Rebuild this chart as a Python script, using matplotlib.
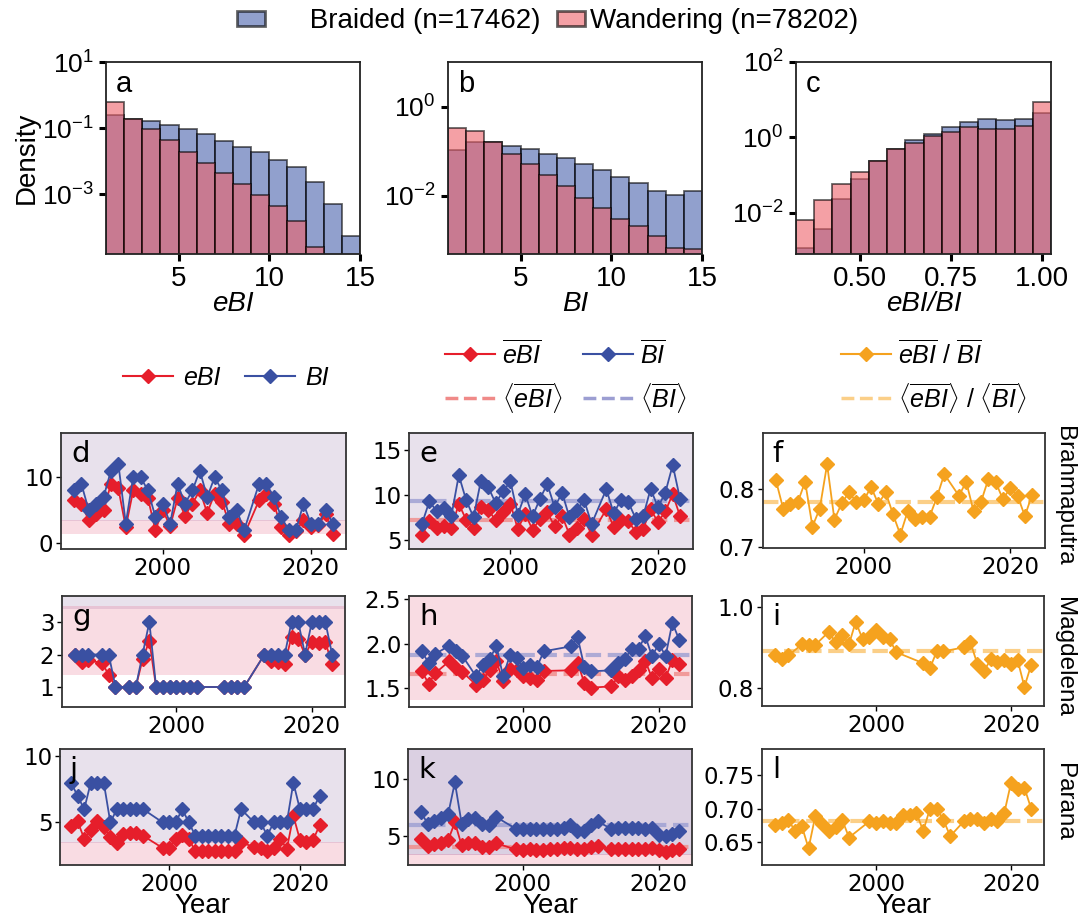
import numpy as np
import matplotlib.pyplot as plt
from matplotlib.patches import Patch
from matplotlib.lines import Line2D

plt.rcParams['font.family'] = ['Liberation Sans', 'DejaVu Sans']
plt.rcParams['mathtext.fontset'] = 'custom'
plt.rcParams['mathtext.rm'] = 'Liberation Sans'
plt.rcParams['mathtext.it'] = 'Liberation Sans:italic'
plt.rcParams['mathtext.bf'] = 'Liberation Sans:bold'

# ---------------- histogram data (density per bin) ----------------
a_edges = [1, 2, 3, 4, 5, 6, 7, 8, 9, 10, 11, 12, 13, 14, 15]
a_braided = [0.255, 0.19, 0.16, 0.126, 0.095, 0.066, 0.040, 0.027, 0.0186, 0.011, 0.0068, 0.0023, 0.0005, 5.5e-5]
a_wandering = [0.634, 0.19, 0.093, 0.044, 0.0195, 0.0090, 0.0045, 0.0020, 0.00097, 0.00044, 0.000158, 2.5e-5, np.nan, np.nan]

b_edges = [1, 2, 3, 4, 5, 6, 7, 8, 9, 10, 11, 12, 13, 14, 15]
b_braided = [0.106, 0.158, 0.165, 0.13, 0.11, 0.086, 0.069, 0.0515, 0.0378, 0.0267, 0.0196, 0.0132, 0.0107, 0.0129]
b_wandering = [0.326, 0.289, 0.16, 0.089, 0.0515, 0.029, 0.0165, 0.009, 0.0055, 0.0031, 0.0021, 0.00126, 0.00068, 0.00064]

c_edges = [0.325, 0.375, 0.425, 0.475, 0.525, 0.575, 0.625, 0.675, 0.725, 0.775, 0.825, 0.875, 0.925, 0.975, 1.025]
c_braided = [0.00118, 0.0036, 0.0223, 0.0787, 0.229, 0.50, 0.83, 1.20, 1.89, 2.57, 3.09, 2.9, 2.97, 4.47]
c_wandering = [0.0062, 0.021, 0.057, 0.119, 0.238, 0.50, 0.706, 1.06, 1.42, 1.85, 1.67, 1.67, 2.05, 8.8]

# ---------------- Brahmaputra ----------------
yrs_brahma = [1988, 1989, 1990, 1991, 1992, 1993, 1994, 1995, 1996, 1997, 1998, 1999,
              2000, 2001, 2002, 2003, 2004, 2005, 2006, 2007, 2008, 2009, 2010, 2011,
              2013, 2014, 2015, 2016, 2017, 2018, 2019, 2020, 2021, 2022, 2023]
d_ebi = [6.5, 6.0, 3.5, 4.5, 5.0, 9.0, 8.3, 2.4, 8.0, 7.5, 6.8, 2.0, 5.0, 2.6, 6.8, 4.2, 6.0, 8.0,
         4.6, 7.5, 6.3, 2.9, 2.9, 1.3, 6.5, 7.5, 6.0, 2.5, 1.2, 1.8, 3.6, 2.5, 2.8, 4.4, 1.4]
d_bi = [8, 9, 5, 6, 7, 11, 12, 3, 10, 10, 8, 4, 6, 3, 9, 6, 8, 11, 7, 10, 8, 4, 5, 2,
        9, 9, 7, 4, 2, 2, 6, 3, 3, 5, 3]
e_ebi = [5.48, 7.04, 6.3, 6.56, 6.26, 9.0, 7.22, 6.26, 8.63, 8.33, 7.15, 8.04, 9.0, 6.19, 7.9, 6.1,
         7.3, 8.04, 6.48, 7.67, 5.56, 6.3, 7.3, 5.56, 8.4, 6.4, 7.22, 7.04, 5.85, 6.19, 8.4, 6.96,
         8.15, 10.1, 7.6]
e_bi = [6.74, 9.26, 8.2, 8.5, 7.67, 12.2, 9.4, 7.5, 11.6, 10.85, 9.07, 10.4, 11.5, 7.8, 10.1, 7.6,
        9.56, 11.2, 8.6, 10.26, 7.5, 8.33, 9.4, 6.74, 10.63, 7.96, 9.44, 9.15, 7.33, 7.6, 10.67,
        8.63, 10.26, 13.33, 9.52]
f_ratio = [0.815, 0.766, 0.773, 0.777, 0.812, 0.735, 0.766, 0.842, 0.747, 0.775, 0.794, 0.777,
           0.780, 0.803, 0.774, 0.794, 0.756, 0.721, 0.761, 0.748, 0.751, 0.752, 0.786, 0.825,
           0.788, 0.812, 0.761, 0.777, 0.816, 0.812, 0.782, 0.801, 0.788, 0.753, 0.790]

# ---------------- Magdelena ----------------
yrs_mag = [1985, 1986, 1987, 1989, 1990, 1991, 1993, 1994, 1995, 1996, 1997, 1998, 1999, 2000,
           2001, 2002, 2003, 2007, 2008, 2009, 2010, 2013, 2014, 2015, 2016, 2017, 2018, 2019,
           2020, 2021, 2022, 2023]
g_ebi = [2.0, 1.78, 1.82, 1.74, 1.38, 1.0, 1.0, 1.0, 1.85, 2.42, 1.0, 1.0, 1.0, 1.0, 1.0, 1.0, 1.0,
         1.0, 1.0, 1.0, 1.0, 2.0, 1.8, 1.77, 1.7, 2.55, 2.48, 2.0, 2.38, 2.36, 2.38, 1.7]
g_bi = [2, 2, 2, 2, 2, 1, 1, 1, 2, 3, 1, 1, 1, 1, 1, 1, 1, 1, 1, 1, 1, 2, 2, 2, 2, 3, 3, 2, 3, 3, 3, 2]
h_ebi = [1.688, 1.549, 1.669, 1.80, 1.729, 1.68, 1.538, 1.594, 1.70, 1.80, 1.579, 1.718, 1.70,
         1.632, 1.617, 1.594, 1.692, 1.70, 1.786, 1.556, 1.504, 1.519, 1.632, 1.586, 1.635, 1.70,
         1.805, 1.613, 1.718, 1.617, 1.812, 1.767]
h_bi = [1.914, 1.782, 1.887, 1.974, 1.917, 1.861, 1.632, 1.756, 1.823, 1.974, 1.632, 1.868, 1.838,
        1.729, 1.756, 1.737, 1.914, 1.970, 2.075, 1.737, 1.688, 1.70, 1.782, 1.831, 1.944, 1.944,
        2.086, 1.857, 2.0, 1.861, 2.237, 2.045]
i_ratio = [0.881, 0.873, 0.881, 0.908, 0.907, 0.907, 0.939, 0.913, 0.931, 0.909, 0.964, 0.921,
           0.927, 0.943, 0.927, 0.921, 0.889, 0.862, 0.850, 0.891, 0.891, 0.901, 0.913, 0.861,
           0.842, 0.872, 0.866, 0.870, 0.861, 0.869, 0.804, 0.858]

# ---------------- Parana ----------------
yrs_par = [1985, 1986, 1987, 1988, 1989, 1990, 1991, 1992, 1993, 1994, 1995, 1996, 1999, 2000,
           2001, 2002, 2003, 2004, 2005, 2006, 2007, 2008, 2009, 2010, 2011, 2013, 2014, 2015,
           2016, 2017, 2018, 2019, 2020, 2021, 2022, 2023]
j_ebi = [4.7, 5.08, 3.76, 4.44, 5.08, 4.65, 3.89, 3.43, 4.12, 4.19, 4.19, 3.99, 3.06, 3.06, 3.76,
         4.07, 3.76, 2.8, 2.8, 2.8, 2.8, 2.8, 2.8, 2.8, 3.48, 3.13, 3.06, 2.8, 3.06, 3.76, 2.98,
         5.5, 3.69, 3.48, 3.64, 4.77]
j_bi = [8, 7, 6, 8, 8, 8, 5, 6, 6, 6, 6, 6, 5, 5, 5, 6, 5, 4, 4, 4, 4, 4, 4, 4, 6,
        5, 5, 4, 5, 5, 5, 8, 6, 6, 6, 7]
k_ebi = [4.8, 4.13, 4.3, 4.4, 4.65, 6.22, 4.2, 4.4, 4.4, 4.1, 4.1, 4.4, 3.85, 3.8, 3.85, 3.8, 3.8,
         3.9, 3.9, 3.95, 4.0, 3.85, 3.85, 4.1, 4.15, 3.85, 3.9, 3.9, 3.9, 3.9, 3.85, 3.95, 3.8,
         3.65, 3.8, 3.85]
k_bi = [7.1, 6.1, 6.3, 6.6, 6.9, 9.7, 6.1, 6.5, 6.6, 6.1, 6.0, 6.7, 5.65, 5.6, 5.65, 5.6, 5.6,
        5.65, 5.65, 5.7, 6.0, 5.5, 5.5, 6.0, 6.3, 5.65, 5.7, 5.7, 5.75, 5.7, 5.65, 5.7, 5.15,
        5.0, 5.2, 5.5]
l_ratio = [0.676, 0.679, 0.683, 0.667, 0.674, 0.641, 0.689, 0.677, 0.667, 0.672, 0.683, 0.657,
           0.681, 0.679, 0.681, 0.679, 0.679, 0.690, 0.690, 0.693, 0.667, 0.700, 0.700, 0.683,
           0.659, 0.681, 0.684, 0.684, 0.678, 0.684, 0.681, 0.693, 0.738, 0.730, 0.731, 0.700]

# band limits used for shading (wandering / braided)
wander_band = (1.36, 3.5)
braid_band = (3.4, 100)

# ---------------- styling ----------------
W, H = 1089, 922
C_BRAID = '#4861ac'
C_WAND = '#ee6169'
RED = '#e61e2b'
BLUE = '#3a50a2'
ORANGE = '#f5a21e'
RED_M = '#f08a88'
BLUE_M = '#9c9ed2'
ORANGE_M = '#fbcf88'
TICKFONT = 'DejaVu Sans'
MS = 6.8


def rect(x0, y0, x1, y1):
    return [x0 / W, 1 - y1 / H, (x1 - x0) / W, (y1 - y0) / H]


fig = plt.figure(figsize=(W / 100, H / 100), dpi=100)


def draw_hist(box, edges, braided, wandering, letter, xlabel, xticks, xtlabels, yticks, ylim):
    ax = fig.add_axes(rect(*box))
    ax.set_yscale('log')
    edges = np.asarray(edges)
    w = np.diff(edges)
    ax.bar(edges[:-1], braided, width=w, align='edge', bottom=1e-9, color=C_BRAID,
           alpha=0.6, edgecolor='black', linewidth=1.3)
    ax.bar(edges[:-1], wandering, width=w, align='edge', bottom=1e-9, color=C_WAND,
           alpha=0.6, edgecolor='black', linewidth=1.3)
    ax.set_xlim(edges[0], edges[-1])
    ax.set_ylim(*ylim)
    ax.set_xticks(xticks, xtlabels, fontsize=20)
    ax.set_yticks(yticks, [r'$10^{%d}$' % int(round(np.log10(t))) for t in yticks], fontsize=19)
    ax.minorticks_off()
    ax.tick_params(length=5, width=2.2, pad=4)
    for s in ax.spines.values():
        s.set_linewidth(1.3)
        s.set_color('#222222')
    ax.set_xlabel(xlabel, fontsize=20, fontstyle='italic', labelpad=-1)
    ax.text(0.04, 0.96, letter, transform=ax.transAxes, va='top', ha='left', fontsize=21)
    return ax


ax_a = draw_hist((106, 62, 360, 254), a_edges, a_braided, a_wandering, 'a', 'eBI',
                 [5, 10, 15], ['5', '10', '15'], [1e1, 1e-1, 1e-3], (10 ** -4.81, 10))
ax_a.set_ylabel('Density', fontsize=20, labelpad=1)
draw_hist((448, 62, 702, 254), b_edges, b_braided, b_wandering, 'b', 'BI',
          [5, 10, 15], ['5', '10', '15'], [1e0, 1e-2], (10 ** -3.3, 10))
draw_hist((796, 62, 1051, 254), c_edges, c_braided, c_wandering, 'c', 'eBI/BI',
          [0.5, 0.75, 1.0], ['0.50', '0.75', '1.00'], [1e2, 1e0, 1e-2], (10 ** -3.1, 100))

fig.legend(
    [Patch(facecolor=C_BRAID, alpha=0.6, edgecolor='black', linewidth=2),
     Patch(facecolor=C_WAND, alpha=0.6, edgecolor='black', linewidth=2)],
    ['     Braided (n=17462)', 'Wandering (n=78202)'],
    loc='center', bbox_to_anchor=(548 / W, 1 - 21 / H), ncol=2, frameon=False,
    fontsize=20, handlelength=1.0, handleheight=0.45, handletextpad=0.2, columnspacing=0.6)


def style_row(ax, letter, xlim, ylim, yticks, ytlabels, xlabel=False):
    ax.set_xlim(*xlim)
    ax.set_ylim(*ylim)
    ax.set_xticks([2000, 2020], ['2000', '2020'], fontsize=16.5, fontfamily=TICKFONT)
    ax.set_yticks(yticks, ytlabels, fontsize=16.5, fontfamily=TICKFONT)
    ax.tick_params(length=3.5, width=1, pad=2)
    for s in ax.spines.values():
        s.set_linewidth(1.3)
        s.set_color('#333333')
    ax.text(0.035, 0.94, letter, transform=ax.transAxes, va='top', ha='left', fontsize=21,
            fontfamily=TICKFONT, zorder=10)
    if xlabel:
        ax.set_xlabel('Year', fontsize=20, labelpad=-2)


def shade(ax, purple_alpha=0.18):
    ax.axhspan(*braid_band, color=(0.5, 0.35, 0.6), alpha=purple_alpha, lw=0, zorder=0)
    ax.axhspan(*wander_band, color=(0.89, 0.24, 0.41), alpha=0.18, lw=0, zorder=0)


def draw_pair(ax, yrs, ebi, bi, means=False):
    ax.plot(yrs, ebi, color=RED, marker='D', ms=MS, lw=1.3, zorder=3)
    ax.plot(yrs, bi, color=BLUE, marker='D', ms=MS, lw=1.3, zorder=4)
    if means:
        ax.axhline(np.mean(ebi), color=RED_M, ls='--', lw=3, alpha=0.8, zorder=2)
        ax.axhline(np.mean(bi), color=BLUE_M, ls='--', lw=3, alpha=0.8, zorder=2)


def draw_ratio(ax, yrs, ratio, ebi_mean_src, bi_mean_src):
    ax.axhline(np.mean(ebi_mean_src) / np.mean(bi_mean_src), color=ORANGE_M, ls='--', lw=3, zorder=2)
    ax.plot(yrs, ratio, color=ORANGE, marker='D', ms=MS, lw=1.3, zorder=3)


XL_B = (1986.25, 2024.75)
XL_M = (1983.1, 2024.9)
XL_J = (1983.3, 2026.9)

# row 1 - Brahmaputra
ax = fig.add_axes(rect(61, 433, 346, 549)); shade(ax)
draw_pair(ax, yrs_brahma, d_ebi, d_bi)
style_row(ax, 'd', XL_B, (-0.86, 16.7), [0, 10], ['0', '10'])
ax = fig.add_axes(rect(409, 433, 693, 549)); shade(ax)
draw_pair(ax, yrs_brahma, e_ebi, e_bi, means=True)
style_row(ax, 'e', XL_B, (3.96, 16.9), [5, 10, 15], ['5', '10', '15'])
ax = fig.add_axes(rect(763, 433, 1045, 548))
draw_ratio(ax, yrs_brahma, f_ratio, e_ebi, e_bi)
style_row(ax, 'f', XL_B, (0.698, 0.896), [0.7, 0.8], ['0.7', '0.8'])

# row 2 - Magdelena
ax = fig.add_axes(rect(62, 596, 345, 707)); shade(ax)
draw_pair(ax, yrs_mag, g_ebi, g_bi)
style_row(ax, 'g', XL_M, (0.385, 3.8), [1, 2, 3], ['1', '2', '3'])
ax = fig.add_axes(rect(409, 596, 692, 707)); shade(ax)
draw_pair(ax, yrs_mag, h_ebi, h_bi, means=True)
style_row(ax, 'h', XL_M, (1.286, 2.538), [1.5, 2.0, 2.5], ['1.5', '2.0', '2.5'])
ax = fig.add_axes(rect(762, 596, 1044, 706))
draw_ratio(ax, yrs_mag, i_ratio, h_ebi, h_bi)
style_row(ax, 'i', XL_M, (0.757, 1.027), [0.8, 1.0], ['0.8', '1.0'])

# row 3 - Parana
ax = fig.add_axes(rect(60, 749, 345, 865)); shade(ax)
draw_pair(ax, yrs_par, j_ebi, j_bi)
style_row(ax, 'j', XL_J, (1.77, 10.56), [5, 10], ['5', '10'], xlabel=True)
ax = fig.add_axes(rect(408, 749, 692, 865)); shade(ax, purple_alpha=0.28)
draw_pair(ax, yrs_par, k_ebi, k_bi, means=True)
style_row(ax, 'k', XL_M, (2.5, 12.6), [5, 10], ['5', '10'], xlabel=True)
ax = fig.add_axes(rect(762, 749, 1044, 865))
draw_ratio(ax, yrs_par, l_ratio, k_ebi, k_bi)
style_row(ax, 'l', XL_M, (0.616, 0.789), [0.65, 0.70, 0.75], ['0.65', '0.70', '0.75'], xlabel=True)

# river names
for name, yc in [('Brahmaputra', 496), ('Magdelena', 657), ('Parana', 802)]:
    fig.text(1064 / W, 1 - yc / H, name, rotation=270, va='center', ha='center', fontsize=17.5)


# legends for the time-series columns
def lh(color, ls='-'):
    if ls == '-':
        return Line2D([], [], color=color, marker='D', ms=MS, lw=1.5)
    return Line2D([], [], color=color, ls='--', lw=2.5)


fig.legend([lh(RED), lh(BLUE)], ['eBI', 'BI'], loc='center',
           bbox_to_anchor=(226 / W, 1 - 378 / H), ncol=2, frameon=False,
           prop={'family': 'Liberation Sans', 'style': 'italic', 'size': 18},
           handlelength=2.0, handletextpad=0.4, columnspacing=1.0)

fig.legend([lh(RED), lh(RED_M, '--'), lh(BLUE), lh(BLUE_M, '--')],
           [r'$\overline{eBI}$', r'$\langle\overline{eBI}\rangle$',
            r'$\overline{BI}$', r'$\langle\overline{BI}\rangle$'],
           loc='center', bbox_to_anchor=(566 / W, 1 - 377 / H), ncol=2, frameon=False,
           fontsize=18, handlelength=2.0, handletextpad=0.3, columnspacing=0.8, labelspacing=0.5)

fig.legend([lh(ORANGE), lh(ORANGE_M, '--')],
           [r'$\overline{eBI}$ / $\overline{BI}$',
            r'$\langle\overline{eBI}\rangle$ / $\langle\overline{BI}\rangle$'],
           loc='center', bbox_to_anchor=(934 / W, 1 - 377 / H), ncol=1, frameon=False,
           fontsize=18, handlelength=2.0, handletextpad=0.3, labelspacing=0.5)

fig.savefig('out.png', dpi=100)
